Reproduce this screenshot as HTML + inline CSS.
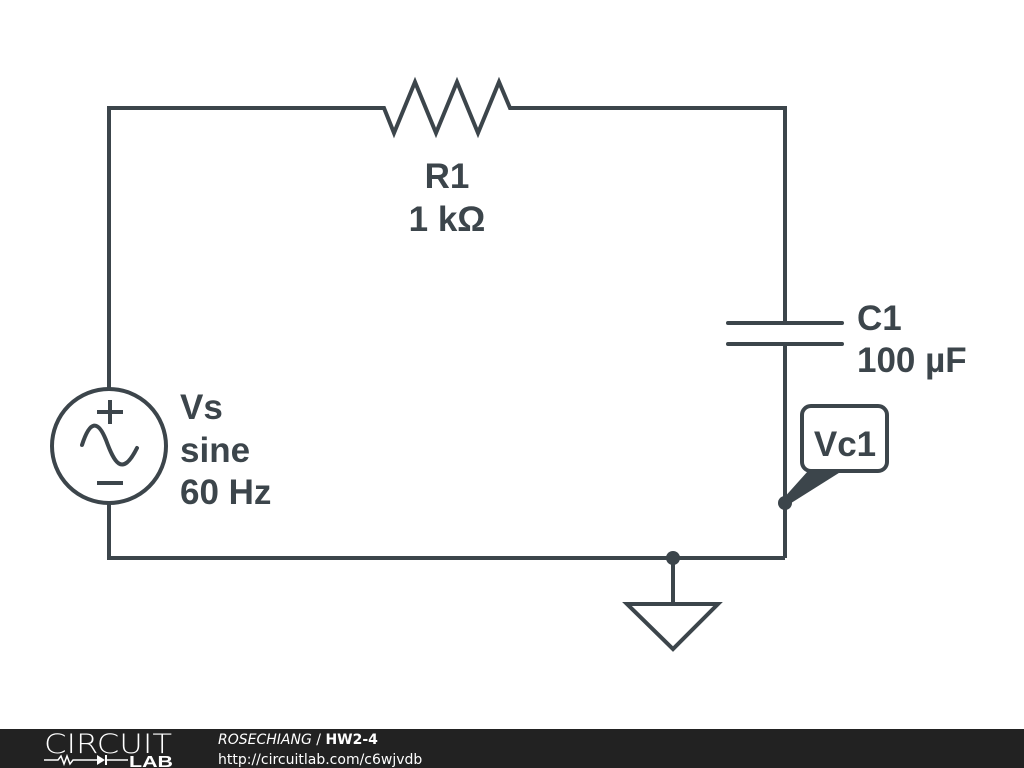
<!DOCTYPE html>
<html><head><style>
body{margin:0;width:1024px;height:768px;background:#fff;overflow:hidden;position:relative;font-family:"Liberation Sans",sans-serif}
.ft{position:absolute;left:0;top:729px;width:1024px;height:39px;background:#222}
.lb{font-family:"Liberation Sans",sans-serif;font-weight:bold;font-size:35px;fill:#3c454b}
.f1{font-family:"DejaVu Sans",sans-serif;font-size:14px;fill:#fff}
</style></head><body>
<svg width="1024" height="768" style="position:absolute;left:0;top:0">
<g stroke="#3c454b" stroke-width="4" fill="none" stroke-linejoin="miter">
<polyline points="109,389 109,108 384,108 394,133 415,82 436,133 457,82 478,133 499,82 510,108 785,108 785,323"/>
<line x1="785" y1="344" x2="785" y2="558"/>
<polyline points="109,503 109,558 785,558"/>
<line x1="728" y1="323" x2="842" y2="323" stroke-linecap="round"/>
<line x1="728" y1="344" x2="842" y2="344" stroke-linecap="round"/>
<circle cx="109" cy="446" r="57"/>
<line x1="97" y1="412" x2="123" y2="412"/><line x1="110" y1="400" x2="110" y2="424"/>
<line x1="97" y1="483" x2="123" y2="483"/>
<path d="M82,445 C90,420 98,420 106,440 C114,462 122,478 137,448" stroke-linecap="round"/>
<line x1="673" y1="558" x2="673" y2="604"/>
<polygon points="627,604 718,604 673,649"/>
<rect x="802" y="406" width="85" height="65" rx="9"/>
</g>
<polygon points="808,471 842,471 788,505 782,500" fill="#3c454b"/>
<circle cx="673" cy="558" r="7" fill="#3c454b"/>
<circle cx="785" cy="503" r="7" fill="#3c454b"/>
<text class="lb" x="447" y="188" text-anchor="middle">R1</text>
<text class="lb" x="447" y="231" text-anchor="middle">1 kΩ</text>
<text class="lb" x="857" y="330">C1</text>
<text class="lb" x="857" y="372">100 µF</text>
<text class="lb" x="180" y="419">Vs</text>
<text class="lb" x="180" y="462">sine</text>
<text class="lb" x="180" y="504">60 Hz</text>
<text class="lb" x="845" y="456" text-anchor="middle">Vc1</text>
</svg>
<div class="ft"></div>
<svg width="1024" height="39" style="position:absolute;left:0;top:729px">
<text x="44" y="24" style="fill:#fff;font-size:27px;font-family:'DejaVu Sans',sans-serif;font-weight:200" textLength="128" lengthAdjust="spacingAndGlyphs">CIRCUIT</text>
<polyline points="44,31 58,31 61,27 64,35 67,27 70,35 73,31 97,31" stroke="#fff" stroke-width="1.5" fill="none"/>
<polygon points="97,26 97,36 105,31" fill="#fff"/><line x1="106" y1="26" x2="106" y2="36" stroke="#fff" stroke-width="2"/>
<line x1="106" y1="31" x2="128" y2="31" stroke="#fff" stroke-width="1.5"/>
<text x="129" y="38" style="fill:#fff;font-size:16px;font-weight:bold;font-family:'Liberation Sans',sans-serif" textLength="44" lengthAdjust="spacingAndGlyphs">LAB</text>
<text class="f1" x="218" y="15"><tspan font-style="italic">ROSECHIANG</tspan> / <tspan font-weight="bold">HW2-4</tspan></text>
<text class="f1" x="218" y="35">http://circuitlab.com/c6wjvdb</text>
</svg>
</body></html>
